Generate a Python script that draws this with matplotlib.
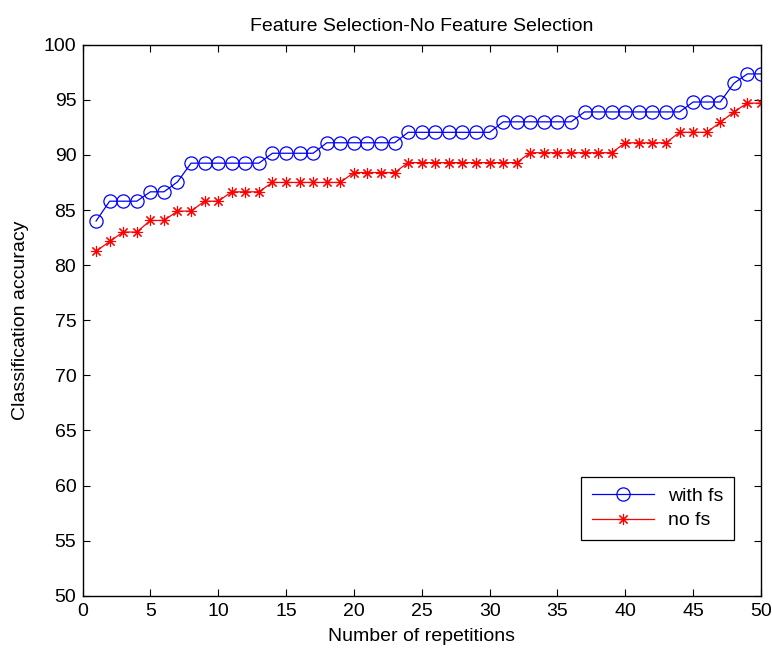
import numpy as np
import matplotlib
matplotlib.use("Agg")
import matplotlib.pyplot as plt

plt.rcParams['font.family'] = ['Liberation Sans', 'DejaVu Sans']

# 重复次数 1..50
repetitions = np.arange(1, 51)

# 使用特征选择的分类准确率
acc_with_fs = ([84.0] + [85.8] * 3 + [86.65] * 2 + [87.55] + [89.25] * 6 +
               [90.15] * 4 + [91.1] * 6 + [92.05] * 7 + [93.0] * 6 +
               [93.9] * 8 + [94.8] * 3 + [96.5] + [97.35] * 2)

# 不使用特征选择的分类准确率
acc_no_fs = ([81.25, 82.15] + [83.0] * 2 + [84.05] * 2 + [84.9] * 2 +
             [85.8] * 2 + [86.65] * 3 + [87.5] * 6 + [88.4] * 4 +
             [89.3] * 9 + [90.2] * 7 + [91.1] * 4 + [92.05] * 3 +
             [92.95, 93.9] + [94.7] * 2)

FS = 14

fig = plt.figure(figsize=(7.72, 6.53), dpi=100)
ax = fig.add_axes([82.5 / 772, 1 - 595.7 / 653, (761 - 82.5) / 772, (595.7 - 44.7) / 653])

ax.plot(repetitions, acc_with_fs, color='#0000ff', lw=0.9, marker='o',
        markersize=9.5, markerfacecolor='none', markeredgecolor='#0000ff',
        markeredgewidth=0.9, label='with fs')
ax.plot(repetitions, acc_no_fs, color='#ff0000', lw=0.9, marker=(8, 2, 0),
        markersize=8, markeredgecolor='#ff0000', markeredgewidth=0.8,
        label='no fs')

ax.set_xlim(0, 50)
ax.set_ylim(50, 100)
ax.set_xticks(np.arange(0, 51, 5))
ax.set_yticks(np.arange(50, 101, 5))
ax.tick_params(direction='in', top=True, right=True, length=5, width=0.8,
               labelsize=FS)
ax.tick_params(axis='x', pad=5.5)
ax.tick_params(axis='y', pad=4.5)
for s in ax.spines.values():
    s.set_linewidth(1.0)

ax.set_title('Feature Selection-No Feature Selection', fontsize=FS, pad=10)
ax.set_xlabel('Number of repetitions', fontsize=FS)
ax.set_ylabel('Classification accuracy', fontsize=FS)
ax.xaxis.set_label_coords(0.5, -0.058)
ax.yaxis.set_label_coords(-0.092, 0.5)
ax.yaxis.label.set_va('center')

leg = ax.legend(loc='lower right', bbox_to_anchor=(0.96, 0.101),
                borderaxespad=0, fontsize=FS, fancybox=False,
                edgecolor='black', framealpha=1, handlelength=3.2,
                handletextpad=0.7, borderpad=0.55, labelspacing=0.35)
leg.get_frame().set_linewidth(0.9)

fig.savefig('out.png', dpi=100)
